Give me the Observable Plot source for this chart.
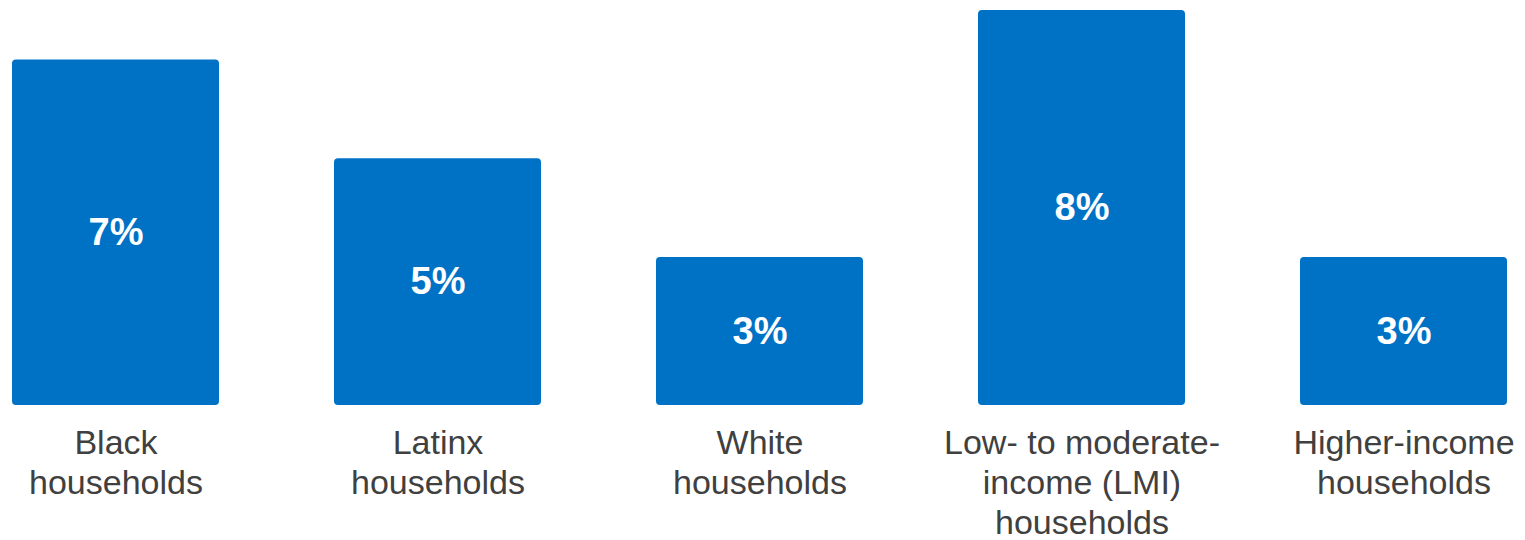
<!DOCTYPE html>
<html>
<head>
<meta charset="utf-8">
<script src="https://cdn.jsdelivr.net/npm/d3@7"></script>
<script src="https://cdn.jsdelivr.net/npm/@observablehq/plot@0.6"></script>
<style>
  html, body { margin: 0; padding: 0; background: #ffffff; }
  #chart svg { display: block; }
</style>
</head>
<body>
<div id="chart"></div>
<script>
const categories = [
  "Black\nhouseholds",
  "Latinx\nhouseholds",
  "White\nhouseholds",
  "Low- to moderate-\nincome (LMI)\nhouseholds",
  "Higher-income\nhouseholds"
];
const values = [7, 5, 3, 8, 3];

const data = categories.map((c, i) => ({category: c, value: values[i]}));

const chart = Plot.plot({
  width: 1525,
  height: 540,
  margin: 0,
  style: {background: "#ffffff", fontFamily: "Liberation Sans, Arial, sans-serif"},
  x: {domain: categories, range: [11, 1508], paddingInner: 0.357, paddingOuter: 0, axis: null},
  y: {domain: [0, 8], range: [405, 10], axis: null},
  marks: [
    Plot.barY(data, {x: "category", y: "value", fill: "#0072C6", rx: 4}),
    Plot.text(data, {
      x: "category", y: d => d.value / 2,
      text: d => d.value + "%",
      fill: "#ffffff", fontSize: 38, fontWeight: "bold",
      textAnchor: "middle"
    }),
    Plot.text(data, {
      x: "category", y: 0,
      text: "category",
      lineAnchor: "top", dy: 20,
      lineHeight: 1.18,
      fill: "#404040", fontSize: 34,
      textAnchor: "middle"
    })
  ]
});
document.getElementById("chart").appendChild(chart);
</script>
</body>
</html>
